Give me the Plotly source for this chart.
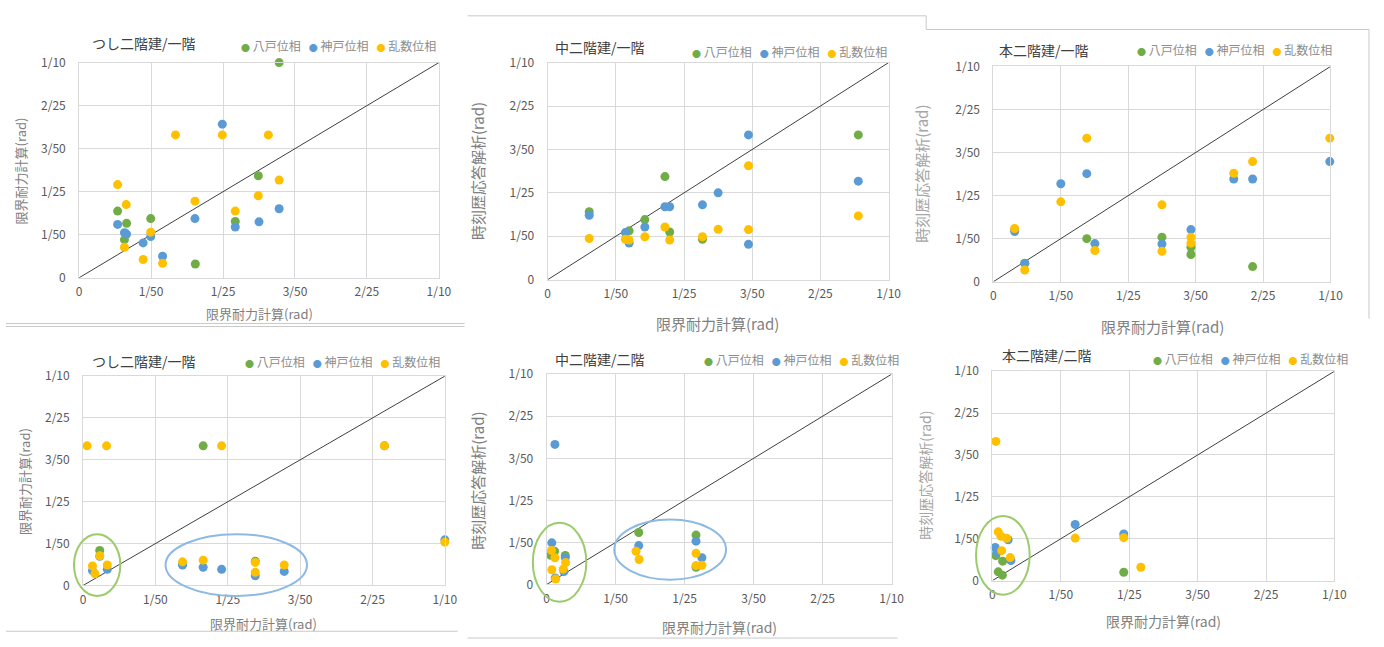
import plotly.graph_objects as go

W, H = 1384, 647

tick_vals = [0, 0.02, 0.04, 0.06, 0.08, 0.1]
tick_text = ["0", "1/50", "1/25", "3/50", "2/25", "1/10"]
series_names = ["八戸位相", "神戸位相", "乱数位相"]
series_colors = ["#70AD47", "#5B9BD5", "#FFC000"]

titles = ["つし二階建/一階", "中二階建/一階", "本二階建/一階",
          "つし二階建/一階", "中二階建/二階", "本二階建/二階"]
x_titles = ["限界耐力計算(rad)"] * 6
y_titles = ["限界耐力計算(rad)", "時刻歴応答解析(rad)", "時刻歴応答解析(rad)",
            "限界耐力計算(rad)", "時刻歴応答解析(rad)", "時刻歴応答解析(rad)"]

# ---- panel 1 : つし二階建/一階 (top) ----
p1_hachi_x = [0.0556, 0.0498, 0.0107, 0.0199, 0.0132, 0.0434, 0.0126, 0.0323]
p1_hachi_y = [0.1000, 0.0474, 0.0310, 0.0275, 0.0253, 0.0262, 0.0177, 0.0064]
p1_kobe_x = [0.0398, 0.0556, 0.0322, 0.0107, 0.0500, 0.0434, 0.0126, 0.0132, 0.0199, 0.0178, 0.0232]
p1_kobe_y = [0.0714, 0.0321, 0.0275, 0.0248, 0.0260, 0.0236, 0.0209, 0.0203, 0.0192, 0.0162, 0.0100]
p1_rand_x = [0.0268, 0.0398, 0.0526, 0.0556, 0.0107, 0.0498, 0.0322, 0.0131, 0.0434, 0.0199, 0.0126, 0.0178, 0.0232]
p1_rand_y = [0.0664, 0.0664, 0.0664, 0.0454, 0.0433, 0.0381, 0.0356, 0.0340, 0.0310, 0.0212, 0.0142, 0.0085, 0.0067]

# ---- panel 2 : 中二階建/一階 ----
p2_hachi_x = [0.0911, 0.0344, 0.0122, 0.0285, 0.0239, 0.0358, 0.0454]
p2_hachi_y = [0.0667, 0.0475, 0.0313, 0.0277, 0.0225, 0.0220, 0.0186]
p2_kobe_x = [0.0589, 0.0911, 0.0500, 0.0454, 0.0344, 0.0358, 0.0122, 0.0285, 0.0228, 0.0239, 0.0589]
p2_kobe_y = [0.0667, 0.0454, 0.0400, 0.0345, 0.0336, 0.0336, 0.0297, 0.0243, 0.0217, 0.0169, 0.0163]
p2_rand_x = [0.0589, 0.0911, 0.0344, 0.0500, 0.0589, 0.0454, 0.0285, 0.0122, 0.0228, 0.0239, 0.0358]
p2_rand_y = [0.0525, 0.0294, 0.0243, 0.0232, 0.0231, 0.0198, 0.0198, 0.0190, 0.0186, 0.0183, 0.0183]

# ---- panel 3 : 本二階建/一階 ----
p3_hachi_x = [0.0063, 0.0277, 0.0500, 0.0586, 0.0586, 0.0769, 0.0093]
p3_hachi_y = [0.0242, 0.0200, 0.0207, 0.0160, 0.0126, 0.0070, 0.0085]
p3_kobe_x = [0.0998, 0.0277, 0.0200, 0.0713, 0.0769, 0.0586, 0.0063, 0.0301, 0.0500, 0.0093]
p3_kobe_y = [0.0558, 0.0502, 0.0455, 0.0477, 0.0477, 0.0242, 0.0233, 0.0177, 0.0175, 0.0086]
p3_rand_x = [0.0998, 0.0277, 0.0769, 0.0713, 0.0200, 0.0500, 0.0063, 0.0586, 0.0586, 0.0301, 0.0500, 0.0093]
p3_rand_y = [0.0667, 0.0667, 0.0558, 0.0504, 0.0371, 0.0357, 0.0247, 0.0206, 0.0179, 0.0145, 0.0141, 0.0054]

# ---- panel 4 : つし二階建/一階 (bottom) ----
p4_hachi_x = [0.0332, 0.0046, 0.0476, 0.0275, 0.0833]
p4_hachi_y = [0.0667, 0.0167, 0.0116, 0.0101, 0.0667]
p4_kobe_x = [0.1000, 0.0275, 0.0332, 0.0383, 0.0476, 0.0556, 0.0026, 0.0067, 0.0046]
p4_kobe_y = [0.0218, 0.0098, 0.0087, 0.0077, 0.0046, 0.0067, 0.0071, 0.0077, 0.0139]
p4_rand_x = [0.0011, 0.0065, 0.0383, 0.0833, 0.1000, 0.0046, 0.0275, 0.0332, 0.0476, 0.0476, 0.0556, 0.0026, 0.0067, 0.0033]
p4_rand_y = [0.0667, 0.0667, 0.0667, 0.0667, 0.0207, 0.0142, 0.0113, 0.0121, 0.0110, 0.0063, 0.0098, 0.0093, 0.0098, 0.0056]

# ---- panel 5 : 中二階建/二階 ----
p5_hachi_x = [0.0267, 0.0433, 0.0023, 0.0054, 0.0433, 0.0012]
p5_hachi_y = [0.0247, 0.0235, 0.0158, 0.0138, 0.0082, 0.0139]
p5_kobe_x = [0.0024, 0.0015, 0.0267, 0.0433, 0.0450, 0.0054, 0.0050, 0.0025]
p5_kobe_y = [0.0666, 0.0198, 0.0185, 0.0206, 0.0127, 0.0128, 0.0062, 0.0031]
p5_rand_x = [0.0259, 0.0268, 0.0433, 0.0450, 0.0433, 0.0014, 0.0024, 0.0015, 0.0055, 0.0048, 0.0026]
p5_rand_y = [0.0158, 0.0119, 0.0148, 0.0091, 0.0090, 0.0162, 0.0127, 0.0070, 0.0104, 0.0073, 0.0026]

# ---- panel 6 : 本二階建/二階 ----
p6_hachi_x = [0.0384, 0.0017, 0.0029, 0.0030, 0.0010]
p6_hachi_y = [0.0040, 0.0042, 0.0026, 0.0093, 0.0119]
p6_kobe_x = [0.0242, 0.0384, 0.0008, 0.0013, 0.0046, 0.0054]
p6_kobe_y = [0.0268, 0.0223, 0.0158, 0.0135, 0.0195, 0.0096]
p6_rand_x = [0.0010, 0.0242, 0.0384, 0.0434, 0.0017, 0.0025, 0.0042, 0.0027, 0.0052]
p6_rand_y = [0.0665, 0.0203, 0.0205, 0.0064, 0.0233, 0.0212, 0.0202, 0.0143, 0.0110]

diag = [0, 0.1]

panels_data = [
    [(p1_hachi_x, p1_hachi_y), (p1_kobe_x, p1_kobe_y), (p1_rand_x, p1_rand_y)],
    [(p2_hachi_x, p2_hachi_y), (p2_kobe_x, p2_kobe_y), (p2_rand_x, p2_rand_y)],
    [(p3_hachi_x, p3_hachi_y), (p3_kobe_x, p3_kobe_y), (p3_rand_x, p3_rand_y)],
    [(p4_hachi_x, p4_hachi_y), (p4_kobe_x, p4_kobe_y), (p4_rand_x, p4_rand_y)],
    [(p5_hachi_x, p5_hachi_y), (p5_kobe_x, p5_kobe_y), (p5_rand_x, p5_rand_y)],
    [(p6_hachi_x, p6_hachi_y), (p6_kobe_x, p6_kobe_y), (p6_rand_x, p6_rand_y)],
]

# ---------------- layout (pixel boxes of each plot area) ----------------
plot_boxes = [  # left, top, right, bottom in px
    (77, 54, 441, 275), (551, 54, 896, 277), (1002, 58, 1343, 279),
    (81, 376, 447, 591), (550, 374, 899, 590), (1001, 371, 1347, 586),
]
title_pos = [(88, 34), (556, 38), (1006, 41), (88, 360), (556, 358), (1009, 354)]
legend_pos = [(239, 36), (695, 43), (1145, 41), (243, 361), (707, 359), (1161, 358)]
xtitle_pos = [(259, 312, 13), (723, 322, 15), (1173, 325, 15), (264, 630, 13), (725, 634, 14), (1174, 627, 14)]
ytitle_pos = [(18, 165, 13), (480, 165, 15), (929, 168, 15), (22, 484, 13), (480, 483, 15), (933, 478, 14)]

FONT = "Noto Sans CJK JP"
GRID = "#D9D9D9"

fig = go.Figure()
layout_upd = {}
annotations = []
shapes = []

legend_html = "&nbsp;&nbsp;&nbsp;".join(
    '<span style="color:%s;font-size:9px">●</span>&nbsp;%s' % (c, n)
    for n, c in zip(series_names, series_colors)
)

for i in range(6):
    k = "" if i == 0 else str(i + 1)
    xa, ya = "x" + k, "y" + k
    l, t, r, b = plot_boxes[i]
    layout_upd["xaxis" + k] = dict(
        domain=[l / W, r / W], range=[0, 0.1], anchor=ya,
        tickvals=tick_vals, ticktext=tick_text, showgrid=True, gridcolor=GRID,
        gridwidth=1, zeroline=False, showline=True, linecolor=GRID, mirror=True,
        ticks="", ticklabelstandoff=3,
        tickfont=dict(family=FONT, size=12, color="#595959"),
    )
    layout_upd["yaxis" + k] = dict(
        domain=[1 - b / H, 1 - t / H], range=[0, 0.1], anchor=xa,
        tickvals=tick_vals, ticktext=tick_text, showgrid=True, gridcolor=GRID,
        gridwidth=1, zeroline=False, showline=True, linecolor=GRID, mirror=True,
        ticks="", ticklabelstandoff=10,
        tickfont=dict(family=FONT, size=12, color="#595959"),
    )
    fig.add_trace(go.Scatter(x=diag, y=diag, mode="lines", xaxis=xa, yaxis=ya,
                             line=dict(color="#404040", width=1), showlegend=False,
                             hoverinfo="skip"))
    for (sx, sy), name, col in zip(panels_data[i], series_names, series_colors):
        fig.add_trace(go.Scatter(x=sx, y=sy, mode="markers", name=name, xaxis=xa, yaxis=ya,
                                 showlegend=False, cliponaxis=False,
                                 marker=dict(color=col, size=9, line=dict(width=0))))
    # compact legend (Excel style) as text
    lx, ly = legend_pos[i]
    annotations.append(dict(text=legend_html, x=lx / W, y=1 - ly / H, xref="paper", yref="paper",
                            xanchor="left", yanchor="middle", showarrow=False,
                            font=dict(family=FONT, size=12, color="#8C8C8C")))
    tx, ty = title_pos[i]
    annotations.append(dict(text=titles[i], x=tx / W, y=1 - ty / H, xref="paper", yref="paper",
                            xanchor="left", yanchor="middle", showarrow=False,
                            font=dict(family=FONT, size=14, color="#404040")))
    ax, ay, asz = xtitle_pos[i]
    annotations.append(dict(text=x_titles[i], x=ax / W, y=1 - ay / H, xref="paper", yref="paper",
                            xanchor="center", yanchor="middle", showarrow=False,
                            font=dict(family=FONT, size=asz, color="#7F7F7F")))
    bx, by, bsz = ytitle_pos[i]
    annotations.append(dict(text=y_titles[i], x=bx / W, y=1 - by / H, xref="paper", yref="paper",
                            xanchor="center", yanchor="middle", showarrow=False, textangle=-90,
                            font=dict(family=FONT, size=bsz,
                                      color="#A6A6A6" if i in (2, 5) else "#7F7F7F")))


def to_paper(i, xv, yv):
    l, t, r, b = plot_boxes[i]
    px = l + (r - l) * xv / 0.1
    py = b - (b - t) * yv / 0.1
    return px / W, 1 - py / H


# highlight ellipses (data-space extents)
ellipses = [
    (3, -0.0025, 0.0103, -0.0050, 0.0245, "#9BCB6B"),
    (3, 0.0228, 0.0619, -0.0050, 0.0245, "#8DB9E4"),
    (4, -0.0040, 0.0115, -0.0082, 0.0293, "#9BCB6B"),
    (4, 0.0196, 0.0520, 0.0023, 0.0309, "#8DB9E4"),
    (5, -0.0048, 0.0109, -0.0067, 0.0309, "#9BCB6B"),
]
for i, x0, x1, y0, y1, col in ellipses:
    px0, py0 = to_paper(i, x0, y0)
    px1, py1 = to_paper(i, x1, y1)
    shapes.append(dict(type="circle", xref="paper", yref="paper", x0=px0, x1=px1,
                       y0=py0, y1=py1, line=dict(color=col, width=2)))

# screenshot frame lines
frame_lines = [
    (3, 322, 467, 322), (3, 325, 467, 325),
    (470, 6, 934, 6), (934, 6, 934, 20), (934, 20, 1382, 20), (1382, 20, 1382, 317),
    (3, 638, 460, 638), (470, 645, 905, 645),
]
for x0, y0, x1, y1 in frame_lines:
    shapes.append(dict(type="line", xref="paper", yref="paper", x0=x0 / W, y0=1 - y0 / H,
                       x1=x1 / W, y1=1 - y1 / H, line=dict(color="#C8C8C8", width=1)))

fig.update_layout(
    width=W, height=H, margin=dict(l=0, r=0, t=0, b=0),
    paper_bgcolor="white", plot_bgcolor="white",
    annotations=annotations, shapes=shapes, **layout_upd,
)

fig.write_html("out.html")
